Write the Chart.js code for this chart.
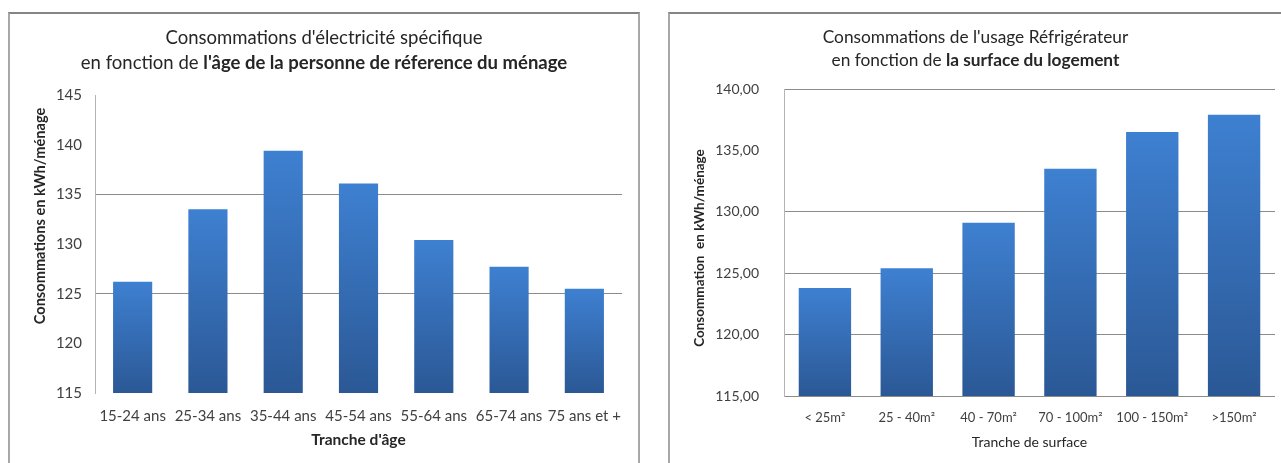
<!DOCTYPE html>
<html>
<head>
<meta charset="utf-8">
<script src="https://cdn.jsdelivr.net/npm/chart.js@4.4.0/dist/chart.umd.min.js"></script>
<style>
  body { margin: 0; background: #fff; width: 1281px; height: 463px; overflow: hidden; position: relative; }
  .panel { position: absolute; top: 12px; height: 460px; background: #fff;
           border-top: 2px solid #858585; border-left: 2px solid #a8a8a8; border-right: 2px solid #a8a8a8; }
  #p1 { left: 8px; width: 628px; }
  #p2 { left: 668px; width: 620px; }
  canvas { display: block; }
</style>
</head>
<body>
<div class="panel" id="p1"><canvas id="ageChart" width="628" height="449"></canvas></div>
<div class="panel" id="p2"><canvas id="surfChart" width="611" height="449"></canvas></div>
<script>
// age of the reference person
const ageLabels = ['15-24 ans', '25-34 ans', '35-44 ans', '45-54 ans', '55-64 ans', '65-74 ans', '75 ans et +'];
const ageValues = [126.2, 133.5, 139.4, 136.1, 130.4, 127.7, 125.5];
const ageTicks = [115, 120, 125, 130, 135, 140, 145];

// dwelling surface
const surfLabels = ['< 25m²', '25 - 40m²', '40 - 70m²', '70 - 100m²', '100 - 150m²', '>150m²'];
const surfValues = [123.8, 125.4, 129.1, 133.5, 136.5, 137.9];
const surfTicks = [115, 120, 125, 130, 135, 140];

const FONT = 'Lato';
const TEXT = '#262626';

// vertical gradient per bar, light on top, dark at the base
function barFill(c) {
  const chart = c.chart;
  const y = chart.scales.y;
  if (!y || c.raw === undefined) return '#3570b8';
  const top = y.getPixelForValue(c.raw);
  const base = y.getPixelForValue(y.min);
  if (!isFinite(top) || !isFinite(base) || top === base) return '#3570b8';
  const g = chart.ctx.createLinearGradient(0, top, 0, base);
  g.addColorStop(0, '#3e80d1');
  g.addColorStop(1, '#2b5895');
  return g;
}

// chart title (normal + bold parts) and axis titles
const titles = {
  id: 'titles',
  afterDraw(chart, args, o) {
    const ctx = chart.ctx;
    ctx.save();
    ctx.fillStyle = TEXT;
    ctx.textBaseline = 'middle';
    const cx = chart.width / 2;
    o.lines.forEach(line => {
      let total = 0;
      line.parts.forEach(p => {
        ctx.font = (p.bold ? 'bold ' : '') + o.size + 'px ' + FONT;
        total += ctx.measureText(p.text).width;
      });
      let x = cx - total / 2;
      ctx.textAlign = 'left';
      line.parts.forEach(p => {
        ctx.font = (p.bold ? 'bold ' : '') + o.size + 'px ' + FONT;
        ctx.fillText(p.text, x, line.y);
        x += ctx.measureText(p.text).width;
      });
    });
    ctx.textAlign = 'center';
    const area = chart.chartArea;
    ctx.font = (o.xBold ? 'bold ' : '') + o.xSize + 'px ' + FONT;
    ctx.fillText(o.xTitle, (area.left + area.right) / 2, o.xY);
    ctx.translate(o.yX, o.yY);
    ctx.rotate(-Math.PI / 2);
    ctx.font = 'bold ' + o.ySize + 'px ' + FONT;
    ctx.fillText(o.yTitle, 0, 0);
    ctx.restore();
  }
};

function makeChart(id, labels, values, ticks, opt) {
  return new Chart(document.getElementById(id), {
    type: 'bar',
    data: {
      labels: labels,
      datasets: [{
        data: values,
        backgroundColor: barFill,
        barPercentage: opt.barPct,
        categoryPercentage: 1
      }]
    },
    plugins: [titles],
    options: {
      responsive: false,
      animation: false,
      events: [],
      layout: { padding: opt.padding },
      plugins: {
        legend: { display: false },
        tooltip: { enabled: false },
        titles: opt.titles
      },
      scales: {
        x: {
          grid: { display: false, drawTicks: false },
          border: { display: false },
          ticks: {
            color: '#404040', font: { family: FONT, size: opt.xTickSize },
            padding: opt.xTickPad, maxRotation: 0, autoSkip: false
          },
          afterFit: s => { s.height = opt.xHeight; }
        },
        y: {
          min: ticks[0],
          max: ticks[ticks.length - 1],
          afterBuildTicks: s => { s.ticks = ticks.map(v => ({ value: v })); },
          grid: {
            drawTicks: false,
            color: c => opt.gridAt.includes(c.tick.value) ? '#8c8c8c' : 'rgba(0,0,0,0)'
          },
          border: { display: true, color: '#b4b4b4' },
          ticks: {
            color: '#404040', font: { family: FONT, size: opt.yTickSize },
            padding: opt.yTickPad, callback: opt.fmt
          },
          afterFit: s => { s.width = opt.yWidth; }
        }
      }
    }
  });
}

makeChart('ageChart', ageLabels, ageValues, ageTicks, {
  barPct: 0.52,
  padding: { top: 81, right: 16, left: 0, bottom: 0 },
  xHeight: 70, yWidth: 85,
  xTickSize: 15, xTickPad: 14,
  yTickSize: 15, yTickPad: 13,
  gridAt: [125, 135],
  fmt: v => String(v),
  titles: {
    size: 18.5,
    lines: [
      { y: 24, parts: [{ text: "Consommations d'électricité spécifique" }] },
      { y: 49, parts: [{ text: 'en fonction de ' }, { text: "l'âge de la personne de réference du ménage", bold: true }] }
    ],
    xTitle: "Tranche d'âge", xBold: true, xSize: 15.5, xY: 426,
    yTitle: 'Consommations en kWh/ménage', ySize: 14.6, yX: 30, yY: 202
  }
});

makeChart('surfChart', surfLabels, surfValues, surfTicks, {
  barPct: 0.64,
  padding: { top: 75, right: 6, left: 0, bottom: 0 },
  xHeight: 67, yWidth: 114,
  xTickSize: 13, xTickPad: 14,
  yTickSize: 14, yTickPad: 25,
  gridAt: [115, 120, 125, 130, 140],
  fmt: v => v.toFixed(2).replace('.', ','),
  titles: {
    size: 17.3,
    lines: [
      { y: 23, parts: [{ text: "Consommations de l'usage Réfrigérateur" }] },
      { y: 46, parts: [{ text: 'en fonction de ' }, { text: 'la surface du logement', bold: true }] }
    ],
    xTitle: 'Tranche de surface', xBold: false, xSize: 14, xY: 428,
    yTitle: 'Consommation  en kWh/ménage', ySize: 13.5, yX: 30, yY: 234
  }
});
</script>
</body>
</html>
